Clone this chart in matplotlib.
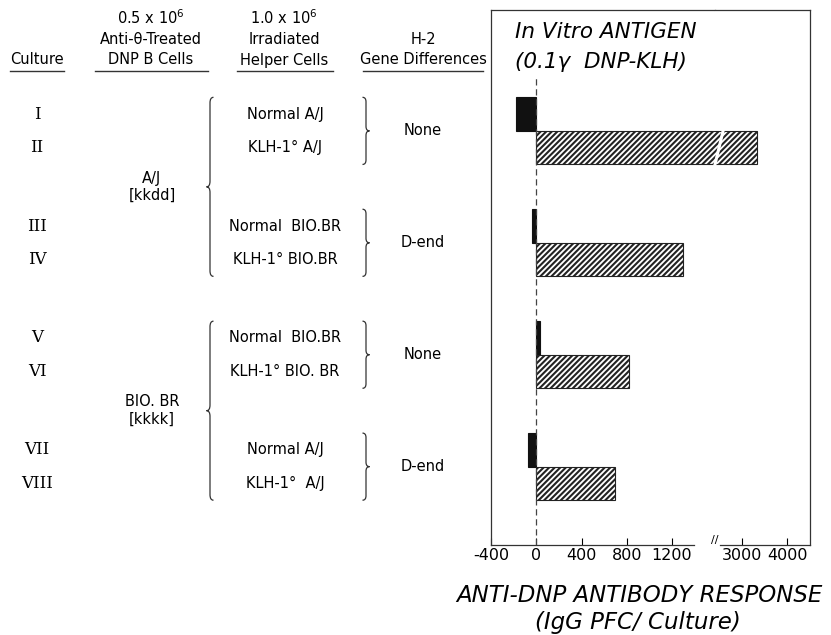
import numpy as np
import matplotlib
matplotlib.use('Agg')
from matplotlib import pyplot as plt
from matplotlib.path import Path
from matplotlib.patches import PathPatch
from matplotlib.transforms import blended_transform_factory

# data
cultures = ['I', 'II', 'III', 'IV', 'V', 'VI', 'VII', 'VIII']
b_cells = ['A/J\n[kkdd]', 'BIO. BR\n[kkkk]']
helpers = ['Normal A/J', 'KLH-1° A/J', 'Normal  BIO.BR', 'KLH-1° BIO.BR',
           'Normal  BIO.BR', 'KLH-1° BIO. BR', 'Normal A/J', 'KLH-1°  A/J']
h2_diff = ['None', 'D-end', 'None', 'D-end']
response = [-180, 3330, -35, 1300, 35, 820, -70, 700]
primed = [False, True, False, True, False, True, False, True]

left_ticks = [-400, 0, 400, 800, 1200]
right_ticks = [3000, 4000]

plt.rcParams['hatch.linewidth'] = 1.5
plt.rcParams['font.family'] = 'DejaVu Sans'
plt.rcParams['axes.unicode_minus'] = False

W, H = 831, 635
fig = plt.figure(figsize=(W / 100, H / 100), dpi=100)

def fpos(x0, y0, x1, y1):
    # pixel box -> figure fraction rect
    return [x0 / W, 1 - y1 / H, (x1 - x0) / W, (y1 - y0) / H]

ax_l = fig.add_axes(fpos(491, 10, 715, 545))
ax_r = fig.add_axes(fpos(715, 10, 810, 545), sharey=ax_l)
ax_t = fig.add_axes(fpos(0, 10, 491, 545), sharey=ax_l)

# row positions: pairs of bars
pair = np.arange(len(cultures)) // 2
ypos = pair + np.where(np.arange(len(cultures)) % 2 == 0, -0.15, 0.15)
ax_l.set_ylim(3.70, -1.08)

for ax in (ax_l, ax_r):
    for y, v, p in zip(ypos, response, primed):
        if p:
            ax.barh(y, v, height=0.3, color='white', edgecolor='#222222',
                    hatch='//////', linewidth=0.8)
        else:
            ax.barh(y, v, height=0.3, color='#111111', edgecolor='#111111',
                    linewidth=0.8)

ax_l.set_xlim(-400, 1580)
ax_r.set_xlim(2400, 4511)
ax_l.set_xticks(left_ticks)
ax_r.set_xticks(right_ticks)
for ax in (ax_l, ax_r):
    ax.tick_params(axis='x', direction='in', length=5, width=0.8, pad=2,
                   labelsize=11.5)
    ax.tick_params(axis='y', left=False, right=False, labelleft=False)
    for s in ax.spines.values():
        s.set_linewidth(0.9)
        s.set_color('#333333')
ax_l.spines['right'].set_visible(False)
ax_r.spines['left'].set_visible(False)
ax_l.spines['bottom'].set_bounds(-400, 1390)
ax_r.spines['bottom'].set_bounds(2520, 4511)

ax_l.axvline(0, ymin=0, ymax=0.875, color='#444444', lw=0.9,
             linestyle=(0, (5, 3)))

# break marks
tr = blended_transform_factory(ax_r.transAxes, ax_r.transData)
ax_r.plot([0.085, 0.0], [0.0, 0.3], color='white', lw=2.2, transform=tr,
          clip_on=False, zorder=5)
ax_r.text(0.0, 0.01, '//', transform=ax_r.transAxes, ha='center', va='center',
          fontsize=8, clip_on=False)

# title in box
fig.text(515 / W, 1 - 32 / H, 'In Vitro ANTIGEN', fontsize=15.5, style='italic',
         va='center', ha='left')
fig.text(515 / W, 1 - 62 / H, '(0.1γ  DNP-KLH)', fontsize=15.5, style='italic',
         va='center', ha='left')

# axis label
fig.text(639 / W, 1 - 595 / H, 'ANTI-DNP ANTIBODY RESPONSE', fontsize=16.5,
         style='italic', ha='center', va='center')
fig.text(638 / W, 1 - 623 / H, '(IgG PFC/ Culture)', fontsize=16.5,
         style='italic', ha='center', va='center')

# table on the left
ax_t.set_xlim(0, 491)
ax_t.axis('off')

def brace(ax, x, y0, y1, w, d):
    ym = (y0 + y1) / 2
    verts = [(x + w, y0), (x, y0), (x, y0 + d),
             (x, ym - d), (x, ym), (x - w, ym),
             (x, ym), (x, ym + d),
             (x, y1 - d), (x, y1), (x + w, y1)]
    codes = [Path.MOVETO, Path.CURVE3, Path.CURVE3,
             Path.LINETO, Path.CURVE3, Path.CURVE3,
             Path.CURVE3, Path.CURVE3,
             Path.LINETO, Path.CURVE3, Path.CURVE3]
    ax.add_patch(PathPatch(Path(verts, codes), fill=False, lw=0.9,
                           edgecolor='#333333', clip_on=False))

for y, c in zip(ypos, cultures):
    ax_t.text(37, y, c, family='DejaVu Serif', fontsize=12, ha='center',
              va='center')
for y, h in zip(ypos, helpers):
    ax_t.text(285, y, h, fontsize=10.5, ha='center', va='center')
for k, b in enumerate(b_cells):
    yc = 2 * k + 0.5
    ax_t.text(152, yc, b, fontsize=10.5, ha='center', va='center',
              linespacing=1.2)
    brace(ax_t, 210, yc - 0.8, yc + 0.8, 3.5, 0.05)
for k, g in enumerate(h2_diff):
    ax_t.text(423, k, g, fontsize=10.5, ha='center', va='center')
    brace(ax_t, 366, k - 0.3, k + 0.3, -3.5, 0.04)

# column headers
headers = [(37, ['Culture']),
           (151, [r'0.5 x 10$^{6}$', 'Anti-θ-Treated', 'DNP B Cells']),
           (284, [r'1.0 x 10$^{6}$', 'Irradiated', 'Helper Cells']),
           (423, ['H-2', 'Gene Differences'])]
for x, lines in headers:
    for i, s in enumerate(reversed(lines)):
        fig.text(x / W, 1 - (60 - 21 * i) / H, s, fontsize=10.5, ha='center',
                 va='center')
underlines = [(10, 64), (95, 208), (237, 333), (363, 483)]
for x0, x1 in underlines:
    fig.add_artist(plt.Line2D([x0 / W, x1 / W], [1 - 71 / H, 1 - 71 / H],
                              color='#333333', lw=1.0))

fig.savefig('out.png', dpi=100)
